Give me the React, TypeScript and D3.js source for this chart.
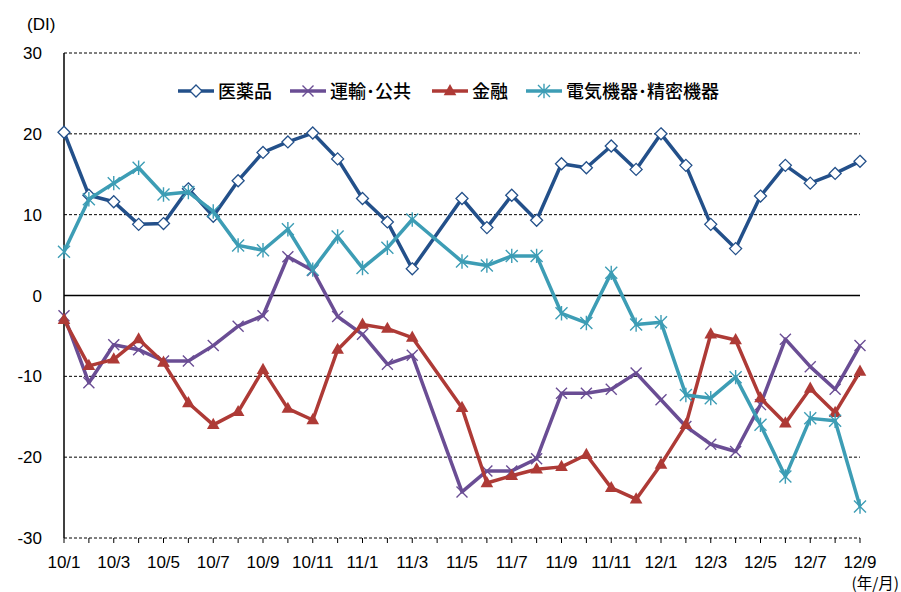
import React from 'react';
import * as d3 from 'd3';

// months 10/1 .. 12/9 (11/4 has no survey value)
const months = [
  '10/1', '10/2', '10/3', '10/4', '10/5', '10/6', '10/7', '10/8', '10/9', '10/10', '10/11', '10/12',
  '11/1', '11/2', '11/3', '11/4', '11/5', '11/6', '11/7', '11/8', '11/9', '11/10', '11/11', '11/12',
  '12/1', '12/2', '12/3', '12/4', '12/5', '12/6', '12/7', '12/8', '12/9'
];
const tickLabels = ['10/1', '10/3', '10/5', '10/7', '10/9', '10/11', '11/1', '11/3', '11/5', '11/7', '11/9', '11/11', '12/1', '12/3', '12/5', '12/7', '12/9'];
const yTicks = [30, 20, 10, 0, -10, -20, -30];

const pharma = [20.2, 12.4, 11.6, 8.8, 8.9, 13.2, 9.8, 14.2, 17.7, 19.0, 20.1, 16.9,
  12.0, 9.1, 3.3, null, 12.0, 8.4, 12.4, 9.3, 16.3, 15.8, 18.5, 15.6,
  20.0, 16.1, 8.8, 5.8, 12.3, 16.1, 13.9, 15.1, 16.6];
const transport = [-2.5, -10.8, -6.1, -6.7, -8.1, -8.1, -6.2, -3.8, -2.5, 4.8, 3.1, -2.6,
  -4.8, -8.5, -7.4, null, -24.3, -21.7, -21.7, -20.2, -12.1, -12.1, -11.6, -9.6,
  -12.9, -16.2, -18.4, -19.3, -13.5, -5.4, -8.8, -11.6, -6.2];
const finance = [-3.0, -8.7, -7.9, -5.4, -8.3, -13.3, -16.0, -14.4, -9.2, -14.0, -15.4, -6.7,
  -3.6, -4.1, -5.2, null, -13.9, -23.2, -22.3, -21.5, -21.2, -19.7, -23.8, -25.2,
  -20.9, -16.0, -4.8, -5.5, -12.7, -15.8, -11.5, -14.5, -9.4];
const electric = [5.4, 11.9, 13.9, 15.8, 12.5, 12.8, 10.4, 6.2, 5.6, 8.2, 3.2, 7.3,
  3.4, 5.9, 9.4, null, 4.2, 3.7, 4.9, 4.9, -2.2, -3.4, 2.8, -3.6,
  -3.3, -12.3, -12.7, -10.1, -16.0, -22.4, -15.2, -15.5, -26.1];

const series = [
  { name: '医薬品', values: pharma, color: '#23508a', marker: 'diamond' },
  { name: '運輸･公共', values: transport, color: '#6a4d94', marker: 'cross' },
  { name: '金融', values: finance, color: '#ae3a36', marker: 'triangle' },
  { name: '電気機器･精密機器', values: electric, color: '#3d9db5', marker: 'star' }
];

const W = 901, H = 592;
const left = 64, right = 860, top = 53, bottom = 538;
const numFont = '"Liberation Sans", Arial, sans-serif';
const jpFont = '"Noto Sans CJK JP", "Noto Sans", sans-serif';

const x = d3.scalePoint<string>().domain(months).range([left, right]);
const y = d3.scaleLinear().domain([-30, 30]).range([bottom, top]);

function Marker({ type, cx, cy, color }: { type: string; cx: number; cy: number; color: string }) {
  if (type === 'diamond') {
    const r = 6;
    return <path d={`M${cx},${cy - r}L${cx + r},${cy}L${cx},${cy + r}L${cx - r},${cy}Z`} fill="#fff" stroke={color} strokeWidth={1.3} />;
  }
  if (type === 'cross') {
    const r = 5.5;
    return <path d={`M${cx - r},${cy - r}L${cx + r},${cy + r}M${cx - r},${cy + r}L${cx + r},${cy - r}`} stroke={color} strokeWidth={1.4} fill="none" />;
  }
  if (type === 'triangle') {
    const r = 7;
    return <path d={`M${cx},${cy - r}L${cx + r * 0.9},${cy + r * 0.6}L${cx - r * 0.9},${cy + r * 0.6}Z`} fill={color} />;
  }
  const r = 6;
  return <path d={`M${cx - r},${cy - r}L${cx + r},${cy + r}M${cx - r},${cy + r}L${cx + r},${cy - r}M${cx},${cy - r * 1.2}L${cx},${cy + r * 1.2}`} stroke={color} strokeWidth={1.4} fill="none" />;
}

export default function App() {
  const line = d3.line<[string, number]>()
    .x(d => x(d[0]) as number)
    .y(d => y(d[1]));

  const legendX = [178, 290, 432, 526];

  return (
    <svg width={W} height={H} style={{ position: 'absolute', left: 0, top: 0, background: '#fff' }}>
      {/* gridlines */}
      {yTicks.filter(t => t !== 0).map(t => (
        <line key={t} x1={left} x2={right} y1={y(t)} y2={y(t)} stroke="#000" strokeWidth={1} strokeDasharray="3,2" />
      ))}
      <line x1={left} x2={right} y1={y(0)} y2={y(0)} stroke="#000" strokeWidth={1.5} />
      <line x1={left} x2={left} y1={top} y2={bottom} stroke="#000" strokeWidth={1.5} />

      {/* x ticks */}
      {months.map(m => (
        <line key={m} x1={x(m)} x2={x(m)} y1={bottom} y2={bottom + 5} stroke="#000" strokeWidth={1} />
      ))}
      {tickLabels.map(m => (
        <text key={m} x={x(m)} y={568} textAnchor="middle" fontFamily={numFont} fontSize={17} fill="#000">{m}</text>
      ))}
      {yTicks.map(t => (
        <text key={t} x={42} y={y(t) + 6} textAnchor="end" fontFamily={numFont} fontSize={17} fill="#000">{t}</text>
      ))}
      <text x={27} y={30} fontFamily={numFont} fontSize={17} fill="#000">(DI)</text>
      <text x={899} y={589} textAnchor="end" fontFamily={jpFont} fontSize={15.5} fill="#000">(年/月)</text>

      {/* series */}
      {series.map(s => {
        const pts = months.map((m, i) => [m, s.values[i]] as [string, number | null])
          .filter(d => d[1] !== null) as [string, number][];
        return (
          <g key={s.name}>
            <path d={line(pts) || ''} fill="none" stroke={s.color} strokeWidth={3.5} strokeLinejoin="round" />
            {pts.map(d => (
              <Marker key={d[0]} type={s.marker} cx={x(d[0]) as number} cy={y(d[1])} color={s.color} />
            ))}
          </g>
        );
      })}

      {/* legend */}
      {series.map((s, i) => (
        <g key={s.name}>
          <line x1={legendX[i]} x2={legendX[i] + 36} y1={91} y2={91} stroke={s.color} strokeWidth={3.5} />
          <Marker type={s.marker} cx={legendX[i] + 18} cy={91} color={s.color} />
          <text x={legendX[i] + 40} y={97.5} fontFamily={jpFont} fontSize={18} fontWeight={500} fill="#000">{s.name}</text>
        </g>
      ))}
    </svg>
  );
}
